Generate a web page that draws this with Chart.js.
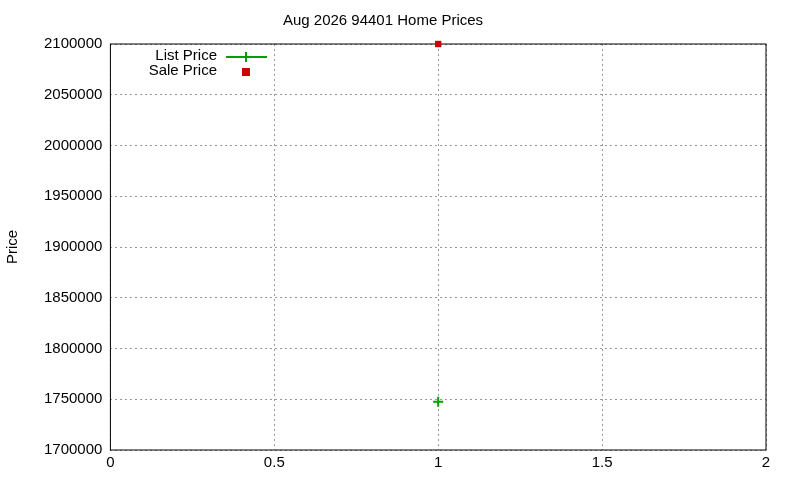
<!DOCTYPE html>
<html><head><meta charset="utf-8">
<script src="https://cdn.jsdelivr.net/npm/chart.js@4"></script>
<style>html,body{margin:0;background:#fff}#w{width:800px;height:480px}</style>
</head><body><div id="w"><canvas id="c"></canvas></div>
<script>
const xValues = [1];
const listPrice = [1747500];
const salePrice = [2100000];
const seriesNames = ['List Price', 'Sale Price'];
const title = 'Aug 2026 94401 Home Prices';
const F = '"Liberation Sans", Arial, sans-serif';

const legendPlugin = {
  id: 'gLegend',
  afterDraw(chart) {
    const ctx = chart.ctx;
    ctx.save();
    ctx.font = '15px ' + F;
    ctx.fillStyle = '#000';
    ctx.textAlign = 'right';
    ctx.textBaseline = 'middle';
    ctx.fillText(seriesNames[0], 217, 56);
    ctx.fillText(seriesNames[1], 217, 71);
    ctx.strokeStyle = '#00a000'; ctx.lineWidth = 2;
    ctx.beginPath(); ctx.moveTo(226, 57); ctx.lineTo(267, 57);
    ctx.moveTo(246, 52); ctx.lineTo(246, 62); ctx.stroke();
    ctx.fillStyle = '#cc0000';
    ctx.fillRect(242, 68, 8, 8);
    ctx.restore();
  }
};

new Chart(document.getElementById('c'), {
  type: 'scatter',
  data: {
    datasets: [
      { label: seriesNames[0], data: xValues.map((x,i)=>({x, y: listPrice[i]})),
        pointStyle: 'cross', radius: 5, borderColor: '#00a000', borderWidth: 2, backgroundColor: '#00a000', clip: false },
      { label: seriesNames[1], data: xValues.map((x,i)=>({x, y: salePrice[i]})),
        pointStyle: 'rect', radius: 4.5, borderColor: '#cc0000', backgroundColor: '#cc0000', borderWidth: 0, clip: false }
    ]
  },
  options: {
    responsive: true, maintainAspectRatio: false, animation: false,
    layout: { padding: { top: 4, right: 34, bottom: 4, left: 0 } },
    plugins: {
      legend: { display: false }, tooltip: { enabled: false },
      title: { display: true, text: title, color: '#000', font: { family: F, size: 15, weight: 'normal' }, padding: { top: 8, bottom: 14 } }
    },
    scales: {
      x: { type: 'linear', min: 0, max: 2,
        ticks: { stepSize: 0.5, color: '#000', font: { family: F, size: 15 }, padding: 4, callback: v => String(v) },
        grid: { color: '#999', lineWidth: 1, drawTicks: false },
        border: { display: false, dash: [2, 3] } },
      y: { min: 1700000, max: 2100000,
        ticks: { stepSize: 50000, color: '#000', font: { family: F, size: 15 }, padding: 8, callback: v => String(v) },
        grid: { color: '#999', lineWidth: 1, drawTicks: false },
        border: { display: false, dash: [2, 3] },
        title: { display: true, text: 'Price', color: '#000', font: { family: F, size: 15 }, padding: { bottom: 14 } } }
    }
  },
  plugins: [legendPlugin, {
    id: 'frame',
    beforeDatasetsDraw(chart) {
      const {ctx, chartArea: a} = chart;
      ctx.save();
      ctx.strokeStyle = '#000'; ctx.lineWidth = 1;
      ctx.strokeRect(a.left, a.top, a.right - a.left, a.bottom - a.top);
      ctx.restore();
    }
  }]
});
</script>
</body></html>
